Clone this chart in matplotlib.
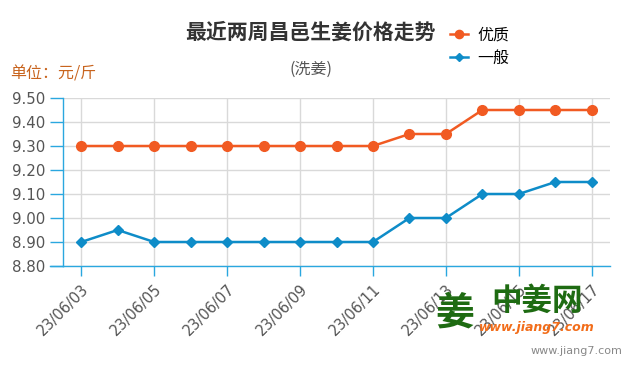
import matplotlib
matplotlib.use("Agg")
import matplotlib.pyplot as plt

plt.rcParams['font.family'] = ['Noto Sans CJK SC', 'DejaVu Sans']

dates = ['23/06/03', '23/06/04', '23/06/05', '23/06/06', '23/06/07', '23/06/08',
         '23/06/09', '23/06/10', '23/06/11', '23/06/12', '23/06/13', '23/06/14',
         '23/06/15', '23/06/16', '23/06/17']
youzhi = [9.30, 9.30, 9.30, 9.30, 9.30, 9.30, 9.30, 9.30, 9.30, 9.35, 9.35, 9.45, 9.45, 9.45, 9.45]
yiban = [8.90, 8.95, 8.90, 8.90, 8.90, 8.90, 8.90, 8.90, 8.90, 9.00, 9.00, 9.10, 9.10, 9.15, 9.15]
yticks = [8.80, 8.90, 9.00, 9.10, 9.20, 9.30, 9.40, 9.50]

orange = '#f15a22'
blue = '#0e8cc8'
axis_c = '#2aa7df'
grid_c = '#d9d9d9'
txt_c = '#555555'

fig = plt.figure(figsize=(6.35, 3.75), dpi=100)
ax = fig.add_axes([63/635, 1-266/375, (610-63)/635, (266-98)/375])

x = list(range(len(dates)))
ax.plot(x, youzhi, color=orange, lw=1.8, marker='o', ms=7, label='优质', zorder=3)
ax.plot(x, yiban, color=blue, lw=1.8, marker='D', ms=4.6, label='一般', zorder=3)

ax.set_xlim(-0.5, 14.5)
ax.set_ylim(8.80, 9.50)
ax.set_yticks(yticks)
ax.set_yticklabels(['%.2f' % v for v in yticks], fontsize=10.8, color=txt_c,
                   family='DejaVu Sans')
ax.set_xticks(x[::2])
ax.set_xticklabels(dates[::2], rotation=45, ha='right', rotation_mode='anchor',
                   fontsize=10.5, color=txt_c, family='DejaVu Sans')
ax.tick_params(axis='y', direction='out', length=9.5, width=1, color=axis_c, pad=3)
ax.tick_params(axis='x', direction='out', length=7, width=1, color=axis_c, pad=4)
ax.grid(True, color=grid_c, lw=1, zorder=0)
for s in ['top', 'right']:
    ax.spines[s].set_visible(False)
ax.spines['left'].set_color(axis_c)
ax.spines['bottom'].set_color(axis_c)
ax.spines['left'].set_linewidth(1)
ax.spines['bottom'].set_linewidth(1)
ax.plot([-13/547, 0], [0, 0], transform=ax.transAxes, color=axis_c, lw=1, clip_on=False)

fig.text(310/635, 1-32/375, '最近两周昌邑生姜价格走势', ha='center', va='center',
         fontsize=15, fontweight='bold', color='#333333')
fig.text(311/635, 1-69/375, '(洗姜)', ha='center', va='center', fontsize=11.5, color=txt_c)
fig.text(10/635, 1-74/375, '单位：元/斤', ha='left', va='center', fontsize=11.5, color='#c8641e')

fig.legend(loc='upper left', bbox_to_anchor=(450/635, 1-27/375), frameon=False,
           fontsize=11.5, handlelength=1.1, handletextpad=0.6, labelspacing=0.36,
           borderpad=0, borderaxespad=0, markerscale=0.85)

# watermark
fig.text(455/635, 1-313/375, '姜', ha='center', va='center', fontsize=28,
         fontweight='bold', color='#1e6b12')
fig.text(537/635, 1-301/375, '中姜网', ha='center', va='center', fontsize=22,
         fontweight='bold', color='#1e6b12')
fig.text(537/635, 1-327/375, 'www.jiang7.com', ha='center', va='center', fontsize=9,
         fontweight='bold', style='italic', color='#f26d1a', family='DejaVu Sans')
fig.text(622/635, 1-351/375, 'www.jiang7.com', ha='right', va='center', fontsize=8,
         color='#888888', family='DejaVu Sans')

fig.savefig('out.png', dpi=100)
